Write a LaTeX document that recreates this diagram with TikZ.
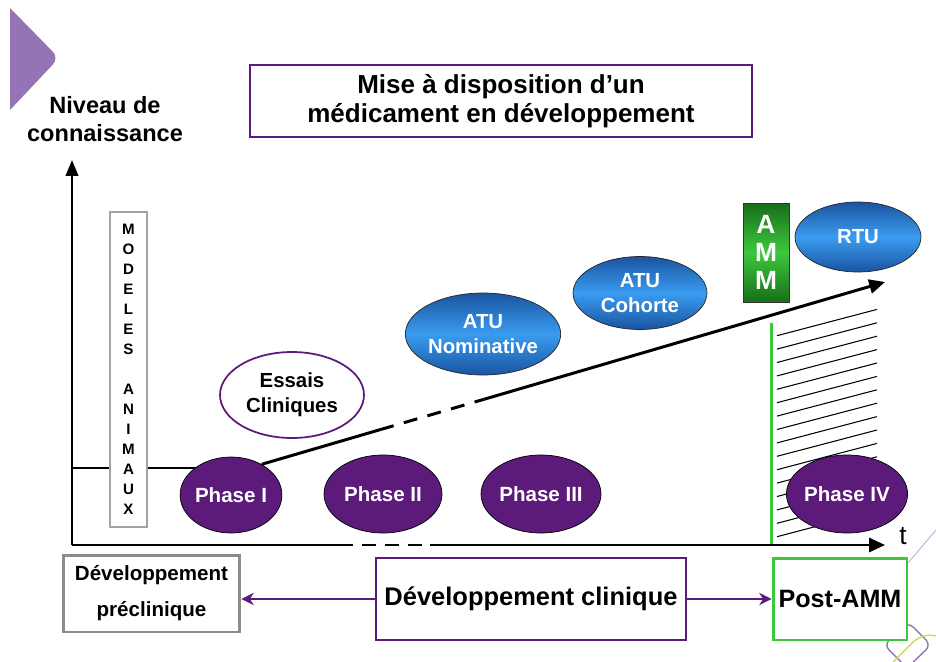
\documentclass[tikz,border=0pt]{standalone}
\usepackage{fontspec}
\setmainfont{Liberation Sans}
\usetikzlibrary{positioning,arrows.meta,shapes,calc,backgrounds}
\definecolor{colp}{RGB}{92,26,122}
\definecolor{coltri}{RGB}{148,116,180}
\definecolor{colbd}{RGB}{26,84,160}
\definecolor{colbl}{RGB}{58,156,240}
\definecolor{colgd}{RGB}{24,110,24}
\definecolor{colgl}{RGB}{60,200,60}
\definecolor{colgr}{RGB}{140,140,140}
\definecolor{colyg}{RGB}{200,220,90}

\begin{document}
\begin{tikzpicture}[x=0.02cm, y=-0.02cm,
    phase/.style={ellipse, draw=black, fill=colp, text=white, inner sep=0pt,
      font=\fontsize{11.7}{13}\selectfont\bfseries},
    atu/.style={ellipse, draw=black!85, top color=colbd, bottom color=colbd,
      middle color=colbl, text=white, align=center, inner sep=0pt,
      font=\fontsize{11.6}{14}\selectfont\bfseries},
    frame/.style={rectangle, draw=colp, line width=1.4pt, fill=white, align=center, inner sep=0pt},
    axis/.style={line width=1.4pt, black},
    trend/.style={line width=1.7pt, black},
    link/.style={line width=1.4pt, colp, -{Stealth[length=7pt,width=7pt]}},
    hatch/.style={black, line width=0.6pt}]
  \useasboundingbox (0,0) rectangle (936,662);

  % template corner
  \fill[coltri] (10,8) [rounded corners=5pt] -- (59,58) [sharp corners] -- (10,110) -- cycle;
  \draw[coltri!60, line width=0.5pt] (936,530) -- (908,563);
  \draw[coltri, line width=0.8pt, rounded corners=4pt] (884,645) -- (908,622) -- (931,645) -- (907,668) -- cycle;
  \draw[colyg, line width=0.8pt] (893,662) -- (913,642) .. controls (920,636) and (928,634) .. (936,636);

  \node[font=\fontsize{13.4}{16}\selectfont\bfseries, align=center] (niveau) at (105,119)
    {Niveau de\\connaissance};
  \node[frame, minimum width=10.04cm, minimum height=1.44cm,
    font=\fontsize{14.8}{16.5}\selectfont\bfseries] (titre) at (501,101)
    {Mise à disposition d’un\\médicament en développement};

  % axes
  \coordinate (O) at (72,545);
  \coordinate (ytop) at (72,160);
  \coordinate (xend) at (885,545);
  \coordinate (lvl) at (72,468);
  \coordinate (top) at (885,282);

  \node[rectangle, draw=colgr!80, line width=0.8pt, fill=white, align=center, inner sep=0pt,
    minimum width=0.74cm, minimum height=6.3cm,
    font=\fontsize{8.6}{11.4}\selectfont\bfseries] (modeles) at (128.5,369.5)
    {M\\O\\D\\E\\L\\E\\S\\[11.4pt]A\\N\\I\\M\\A\\U\\X};

  \node[ellipse, draw=colp, line width=1pt, fill=white, align=center, inner sep=0pt,
    minimum width=2.88cm, minimum height=1.72cm,
    font=\fontsize{11.6}{14}\selectfont\bfseries] (essais) at (292,395) {Essais\\Cliniques};

  \node[phase, minimum width=1.84cm, minimum height=1.52cm] (phaseI) at (231,495) {Phase I};
  \node[phase, minimum width=2.36cm, minimum height=1.56cm] (phaseII) at (383,494) {Phase II};
  \node[phase, minimum width=2.4cm, minimum height=1.56cm] (phaseIII) at (541,494) {Phase III};
  \node[phase, minimum width=2.32cm, minimum height=1.56cm] (phaseIV) at (847,494) {Phase IV};

  \node[atu, minimum width=2.8cm, minimum height=1.64cm] (atunom) at (483,334) {ATU\\Nominative};
  \node[atu, minimum width=2.68cm, minimum height=1.46cm] (atucoh) at (640,293) {ATU\\Cohorte};
  \node[atu, minimum width=2.52cm, minimum height=1.4cm] (rtu) at (858,237) {RTU};

  \node[rectangle, draw=black!80, top color=colgd, bottom color=colgd, middle color=colgl,
    text=white, align=center, inner sep=0pt, minimum width=0.92cm, minimum height=1.98cm,
    font=\fontsize{15}{16}\selectfont\bfseries] (amm) at (766,252.5) {A\\M\\M};

  \begin{scope}[on background layer]
    \draw[trend] (lvl) -- (lvl -| phaseI.center);
    \foreach \i in {0,...,15}
      \draw[hatch] (777,335.7+13.4*\i) -- ++(100,-26.3);
  \end{scope}

  \draw[trend] (phaseI.45) -- ($(phaseI.45)!0.19!(top)$);
  \draw[trend, dash pattern=on 8pt off 6pt] ($(phaseI.45)!0.19!(top)$) -- ($(phaseI.45)!0.356!(top)$);
  \draw[trend, -{Triangle[length=9pt,width=8pt]}] ($(phaseI.45)!0.356!(top)$) -- (top);

  \draw[colgl, line width=1.7pt] (771,323) -- (771,545);

  \draw[axis, -{Triangle[length=9pt,width=7pt]}] (O) -- (ytop);
  \draw[axis] (O) -- (339,545);
  \draw[axis, dash pattern=on 8pt off 5pt] (339,545) -- (442,545);
  \draw[axis, -{Triangle[length=9pt,width=8pt]}] (442,545) -- (xend);
  \node[font=\fontsize{15}{15}\selectfont] (t) at (903,536) {t};

  % bottom boxes
  \node[rectangle, draw=colgr, line width=1.7pt, align=center, inner sep=0pt,
    minimum width=3.54cm, minimum height=1.54cm,
    font=\fontsize{11.7}{20.4}\selectfont\bfseries] (precl) at (151.5,593.5)
    {Développement\\préclinique};
  \node[frame, minimum width=6.2cm, minimum height=1.64cm,
    font=\fontsize{14.5}{16}\selectfont\bfseries] (clin) at (531,599) {Développement clinique};
  \node[frame, draw=colgl, line width=1.7pt, minimum width=2.68cm, minimum height=1.64cm,
    font=\fontsize{14.3}{16}\selectfont\bfseries] (post) at (840,599) {Post-AMM};

  \draw[link] (clin.west) -- (clin.west -| precl.east);
  \draw[link] (clin.east) -- (post.west);
\end{tikzpicture}
\end{document}
